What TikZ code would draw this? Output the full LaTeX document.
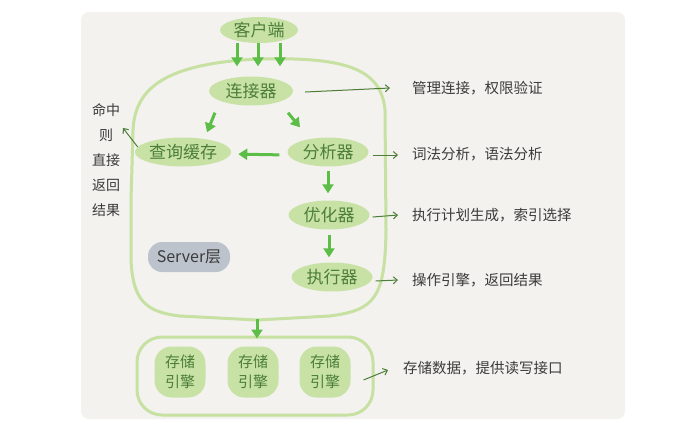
\documentclass[tikz,border=0pt]{standalone}
\usepackage{fontspec}
\newfontfamily\cjk{Noto Sans CJK SC}
\usetikzlibrary{arrows.meta,positioning,shapes.geometric}
\definecolor{bgpaper}{HTML}{F3F2EF}
\definecolor{leaf}{HTML}{C8E2A6}
\definecolor{leafline}{HTML}{C6E1A2}
\definecolor{sprout}{HTML}{5CBD47}
\definecolor{moss}{HTML}{4C7E37}
\definecolor{ink}{HTML}{3B3B3B}
\definecolor{slate}{HTML}{BDC3CC}

\begin{document}
\begin{tikzpicture}[x=1pt,y=-1pt,
    comp/.style={ellipse, fill=leaf, minimum width=81pt, minimum height=29pt, inner sep=0pt, text=moss, font=\cjk\fontsize{17}{17}\selectfont},
    engine/.style={rounded corners=17pt, fill=leaf, minimum width=51pt, minimum height=51pt, inner sep=0pt, align=center, text=moss, font=\cjk\fontsize{15}{20}\selectfont},
    note/.style={anchor=west, inner sep=0pt, text=ink, font=\cjk\fontsize{14.5}{14.5}\selectfont},
    flow/.style={draw=sprout, line width=3pt, -{Triangle[width=11pt,length=9pt]}},
    hint/.style={draw=moss, line width=1pt, -{Straight Barb[length=4pt,width=7pt]}},
    frame/.style={draw=leafline, line width=3pt}]
    \useasboundingbox (0,0) rectangle (679,429);

    % Paper
    \fill[bgpaper, rounded corners=8pt] (81,12) rectangle (625,419);

    % Server layer outline
    \draw[frame] (131,200) -- (133,130) .. controls (135,88) and (165,64) .. (257,59)
        .. controls (340,57) and (381,66) .. (385,110) -- (386,230)
        .. controls (385,298) and (375,310) .. (330,316) -- (257,320) coordinate (srvbot)
        -- (180,316) .. controls (145,312) and (133,300) .. (131,260) -- cycle;

    % Components
    \node[comp, minimum width=78pt, minimum height=26pt] (client) at (259,30) {客户端};
    \node[comp, minimum width=84pt] (connector) at (251,91) {连接器};
    \node[comp, minimum width=83pt] (cache) at (183,152) {查询缓存};
    \node[comp] (analyzer) at (328,152) {分析器};
    \node[comp] (optimizer) at (329,215) {优化器};
    \node[comp] (executor) at (332,277) {执行器};
    \node[fill=slate, rounded corners=14pt, minimum width=82pt, minimum height=30pt, inner sep=0pt,
        text=ink, font=\cjk\fontsize{16}{16}\selectfont] (srvtag) at (189,257) {Server层};

    % Storage layer
    \node[frame, rounded corners=25pt, minimum width=236pt, minimum height=78pt] (storage) at (255,376) {};
    \foreach \x [count=\i] in {180,253,325}
        \node[engine] (eng\i) at (\x,372) {存储\\引擎};

    % Notes
    \node[note] (dconn) at (412,88) {管理连接，权限验证};
    \node[note] (danal) at (412,154) {词法分析，语法分析};
    \node[note] (dopt) at (412,215) {执行计划生成，索引选择};
    \node[note] (dexec) at (412,280) {操作引擎，返回结果};
    \node[note] (dstore) at (403,368) {存储数据，提供读写接口};
    \node[text=ink, align=center, font=\cjk\fontsize{14}{25}\selectfont] (hitnote) at (106,160) {命中\\则\\直接\\返回\\结果};
    \coordinate (hitend) at (123,128);

    % Main flow
    \foreach \dx in {-22,-1,21}
        \draw[flow, shorten >=10pt] ([xshift=\dx pt]client.south) -- ([xshift=\dx pt]client.south |- connector.north);
    \draw[flow] ([xshift=-36pt,yshift=-7pt]connector.south) -- ([xshift=24pt,yshift=5pt]cache.north);
    \draw[flow] ([xshift=37pt,yshift=-7pt]connector.south) -- ([xshift=-28pt,yshift=10pt]analyzer.north);
    \draw[flow, shorten <=8pt, shorten >=7pt] ([yshift=-3pt]analyzer.west) -- ([yshift=-2pt]cache.east);
    \draw[flow, shorten <=4pt, shorten >=7pt] (analyzer.south) -- (analyzer.south |- optimizer.north);
    \draw[flow, shorten <=5pt, shorten >=5pt] (optimizer.south) -- (optimizer.south |- executor.north);
    \draw[flow, shorten <=-1pt, shorten >=-3pt] (srvbot) -- (srvbot |- storage.north);

    % Side notes
    \draw[hint] ([xshift=12pt,yshift=-1pt]connector.east) -- ([xshift=-22pt]dconn.west);
    \draw[hint] ([xshift=4pt,yshift=-3pt]analyzer.east) -- ([xshift=-14pt,yshift=-1pt]danal.west);
    \draw[hint] ([xshift=3pt,yshift=-2pt]optimizer.east) -- ([xshift=-14pt]dopt.west);
    \draw[hint] ([xshift=3pt,yshift=-4pt]executor.east) -- ([xshift=-14pt]dexec.west);
    \draw[hint] ([xshift=-11pt,yshift=-4pt]storage.east) -- ([xshift=-15pt,yshift=-2pt]dstore.west);
    \draw[hint] ([xshift=3pt,yshift=5pt]cache.west) -- (hitend);
\end{tikzpicture}
\end{document}
